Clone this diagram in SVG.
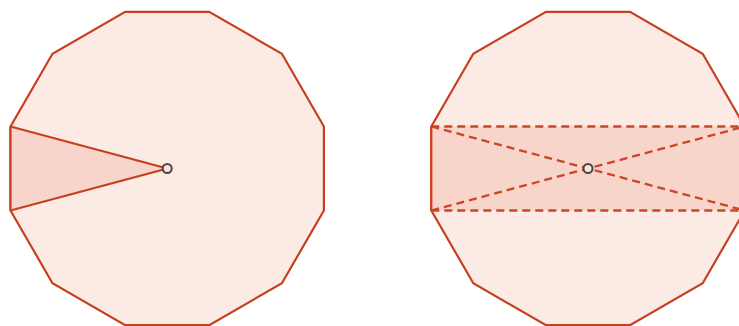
<svg xmlns="http://www.w3.org/2000/svg" xmlns:xlink="http://www.w3.org/1999/xlink" width="739" height="326" viewBox="0 0 739 326">
  <style>
    .poly { fill: #fcebe5; stroke: #c6401f; stroke-width: 2.2; stroke-linejoin: miter; }
    .shade { fill: #f7d5ca; stroke: none; }
    .solid { fill: none; stroke: #c6401f; stroke-width: 2.2; }
    .dash { fill: none; stroke: #cc4526; stroke-width: 2.3; stroke-dasharray: 8 5; }
    .center { fill: #fbe3dc; stroke: #4a4645; stroke-width: 2; }
  </style>
  <defs>
    <polygon id="dodeca" points="156.7,42 114.7,114.7 42,156.7 -42,156.7 -114.7,114.7 -156.7,42 -156.7,-42 -114.7,-114.7 -42,-156.7 42,-156.7 114.7,-114.7 156.7,-42"/>
  </defs>
  <rect width="739" height="326" fill="#ffffff"/>
  <g id="left-dodecagon" transform="translate(167.2,168.5)">
    <use xlink:href="#dodeca" class="poly"/>
    <polygon class="shade" points="-156.7,-42 0,0 -156.7,42"/>
    <polyline class="solid" points="-156.7,-42 0,0 -156.7,42"/>
    <line class="solid" x1="-156.7" y1="-42" x2="-156.7" y2="42"/>
    <circle class="center" cx="0" cy="0" r="4.5"/>
  </g>
  <g id="right-dodecagon" transform="translate(588,168.5)">
    <use xlink:href="#dodeca" class="poly"/>
    <rect class="shade" x="-156.7" y="-42" width="313.4" height="84"/>
    <line class="solid" x1="-156.7" y1="-42" x2="-156.7" y2="42"/>
    <line class="solid" x1="156.7" y1="-42" x2="156.7" y2="42"/>
    <g id="connectors">
      <line class="dash" x1="-156.7" y1="-42" x2="156.7" y2="-42"/>
      <line class="dash" x1="-156.7" y1="42" x2="156.7" y2="42"/>
      <line class="dash" x1="-156.7" y1="-42" x2="156.7" y2="42"/>
      <line class="dash" x1="-156.7" y1="42" x2="156.7" y2="-42"/>
    </g>
    <circle class="center" cx="0" cy="0" r="4.5"/>
  </g>
</svg>
